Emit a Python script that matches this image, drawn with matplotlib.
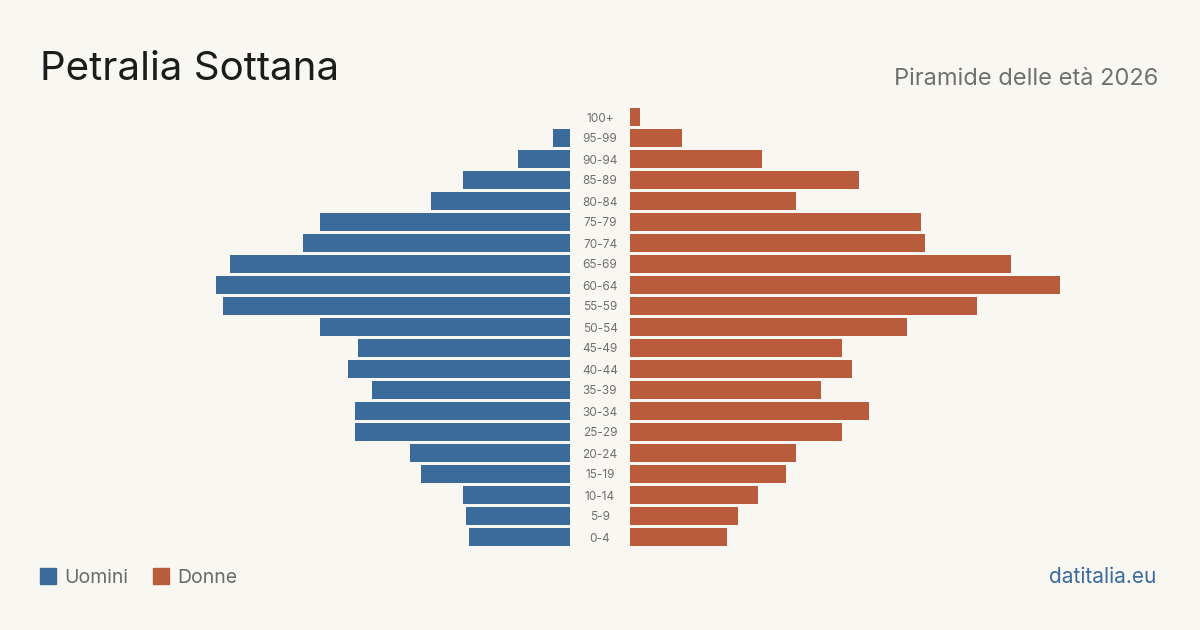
import matplotlib.pyplot as plt

plt.rcParams['font.family'] = ['Inter', 'DejaVu Sans']

# dati (stime)
fasce = ['0-4', '5-9', '10-14', '15-19', '20-24', '25-29', '30-34', '35-39',
         '40-44', '45-49', '50-54', '55-59', '60-64', '65-69', '70-74',
         '75-79', '80-84', '85-89', '90-94', '95-99', '100+']
uomini = [101, 104, 107, 149, 160, 215, 215, 198, 222, 212, 250, 347, 354,
          340, 267, 250, 139, 107, 52, 17, 0]
donne = [97, 108, 128, 156, 166, 212, 239, 191, 222, 212, 277, 347, 430,
         381, 295, 291, 166, 229, 132, 52, 10]

bg = '#f9f7f2'
blu = '#3b6b9a'
rosso = '#b95c3c'

W, H = 1200, 630
fig = plt.figure(figsize=(12, 6.3), dpi=100, facecolor=bg)

y0 = 1 - 547.5 / H
h = 441 / H
ax_l = fig.add_axes([140 / W, y0, 430 / W, h])
ax_r = fig.add_axes([630 / W, y0, 430 / W, h])

pos = range(len(fasce))
ax_l.barh(pos, uomini, height=0.81, color=blu)
ax_r.barh(pos, donne, height=0.81, color=rosso)
ax_l.set_xlim(430, 0)
ax_r.set_xlim(0, 430)

for ax in (ax_l, ax_r):
    ax.set_ylim(-0.5, len(fasce) - 0.5)
    ax.set_facecolor('none')
    ax.axis('off')

for i, f in enumerate(fasce):
    ax_r.text(-30, i, f, ha='center', va='center_baseline', fontsize=8.5,
              color='#6f6f6f', clip_on=False)

fig.text(40 / W, 1 - 80 / H, 'Petralia Sottana', fontsize=29,
         color='#1c1c1c', ha='left', va='baseline')
fig.text(1158 / W, 1 - 85 / H, 'Piramide delle età 2026', fontsize=17,
         color='#707070', ha='right', va='baseline')

# legenda
fig.patches.append(plt.Rectangle((40 / W, 1 - 584 / H), 16 / W, 16 / H,
                                 transform=fig.transFigure, color=blu))
fig.text(64 / W, 1 - 583 / H, 'Uomini', fontsize=14, color='#6a6a6a',
         va='baseline')
fig.patches.append(plt.Rectangle((153 / W, 1 - 584 / H), 16 / W, 16 / H,
                                 transform=fig.transFigure, color=rosso))
fig.text(177 / W, 1 - 583 / H, 'Donne', fontsize=14, color='#6a6a6a',
         va='baseline')

fig.text(1156 / W, 1 - 583 / H, 'datitalia.eu', fontsize=15, color=blu,
         ha='right', va='baseline')

fig.savefig('out.png', dpi=100, facecolor=bg)
